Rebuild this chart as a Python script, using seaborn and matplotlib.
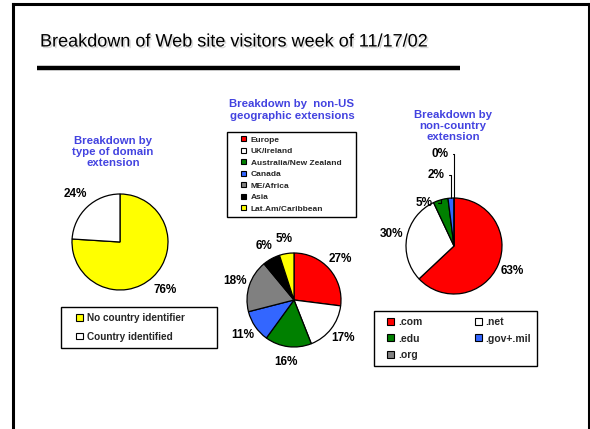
import matplotlib
matplotlib.use("Agg")
import matplotlib.pyplot as plt
import matplotlib.patheffects as pe
from matplotlib.lines import Line2D
from matplotlib.patches import Rectangle
from matplotlib.legend_handler import HandlerPatch
import numpy as np
import seaborn as sns

sns.set_theme(style="white")
plt.rcParams['font.family'] = ['Liberation Sans', 'DejaVu Sans']
plt.rcParams['font.weight'] = 'bold'

# ---------------- data ----------------
title = "Breakdown of Web site visitors week of 11/17/02"

p1_title = "Breakdown by\ntype of domain\nextension"
p1_labels = ["No country identifier", "Country identified"]
p1_values = [76, 24]
p1_colors = ["#FFFF00", "#FFFFFF"]

p2_title = "Breakdown by  non-US\ngeographic extensions"
p2_labels = ["Europe", "UK/Ireland", "Australia/New Zealand", "Canada",
             "ME/Africa", "Asia", "Lat.Am/Caribbean"]
p2_values = [27, 17, 16, 11, 18, 6, 5]
p2_colors = ["#FF0000", "#FFFFFF", "#008000", "#3366FF", "#808080",
             "#000000", "#FFFF00"]

p3_title = "Breakdown by\nnon-country\nextension"
p3_labels = [".com", ".net", ".edu", ".gov+.mil", ".org"]
p3_values = [63, 30, 5, 2, 0]
p3_colors = ["#FF0000", "#FFFFFF", "#008000", "#3366FF", "#808080"]

TITLE_BLUE = "#4343E0"

W, H = 590, 429
fig = plt.figure(figsize=(W / 100, H / 100), dpi=100)
fig.patch.set_facecolor("white")


def fx(x):
    return x / W


def fy(y):
    return 1 - y / H


# slide frame (open at bottom)
for xs, ys in [([13, 13], [4, 429]), ([13, 589], [4, 4]), ([589, 589], [4, 429])]:
    fig.add_artist(Line2D([fx(v) for v in xs], [fy(v) for v in ys],
                          color="black", lw=2.2, solid_capstyle="projecting"))

# title and rule
fig.text(fx(40), fy(42), title, fontsize=13, fontweight="normal",
         ha="left", va="center", color="black",
         path_effects=[pe.withSimplePatchShadow(offset=(1.2, -1.2),
                                                shadow_rgbFace="#aaaaaa",
                                                alpha=0.45)])
fig.add_artist(Line2D([fx(37), fx(460)], [fy(68), fy(68)], color="black",
                      lw=3.2, solid_capstyle="butt"))


class SquareRight(HandlerPatch):
    """Square legend key drawn at the right end of the handle box."""

    def __init__(self, side):
        super().__init__()
        self.side = side

    def create_artists(self, legend, orig_handle, xdescent, ydescent,
                       width, height, fontsize, trans):
        s = self.side * fontsize
        p = Rectangle((width - s - xdescent, -ydescent + (height - s) / 2), s, s,
                      facecolor=orig_handle.get_facecolor(),
                      edgecolor="black", linewidth=0.8, transform=trans)
        return [p]


def pie_axes(cx, cy, r):
    return fig.add_axes([fx(cx - r), fy(cy + r), 2 * r / W, 2 * r / H])


def finish(ax, texts):
    ax.set_xlim(-1, 1)
    ax.set_ylim(-1, 1)
    ax.set_axis_off()
    for t in texts:
        t.set_ha("center")
        t.set_va("center")


wp = dict(edgecolor="black", linewidth=0.9)
lab_kw = dict(fontsize=8.5, fontweight="bold", color="black")
tkw = dict(ha="center", va="center", color=TITLE_BLUE, fontsize=8.2,
           fontweight="bold", linespacing=1.15)
leg_common = dict(loc="upper left", mode="expand", frameon=True, fancybox=False,
                  edgecolor="black", framealpha=1, borderaxespad=0)

# ---------------- pie 1 ----------------
ax1 = pie_axes(120, 242, 48)
w1, t1 = ax1.pie(p1_values, colors=p1_colors, startangle=90, counterclock=False,
                 radius=1, wedgeprops=wp,
                 labels=[f"{v}%" for v in p1_values], labeldistance=1.37,
                 textprops=lab_kw)
finish(ax1, t1)
fig.text(fx(113), fy(152), p1_title, **tkw)
l1 = fig.legend(w1, p1_labels,
                bbox_to_anchor=(fx(61), fy(307), (217 - 61) / W, 0),
                prop=dict(size=7.2, weight="bold"),
                handlelength=1.55, handleheight=0.65, handletextpad=0.45,
                borderpad=0.6, labelspacing=0.85,
                handler_map={w: SquareRight(0.62) for w in w1}, **leg_common)
l1.get_frame().set_linewidth(1.0)

# ---------------- pie 2 ----------------
ax2 = pie_axes(294, 300, 47)
w2, t2 = ax2.pie(p2_values, colors=p2_colors, startangle=90, counterclock=False,
                 radius=1, wedgeprops=wp,
                 labels=[f"{v}%" for v in p2_values], labeldistance=1.32,
                 textprops=lab_kw)
finish(ax2, t2)
fig.text(fx(292), fy(110), p2_title, **tkw)
l2 = fig.legend(w2, p2_labels,
                bbox_to_anchor=(fx(227), fy(132), (356 - 227) / W, 0),
                prop=dict(size=6, weight="bold"),
                handlelength=1.8, handleheight=0.6, handletextpad=0.55,
                borderpad=0.5, labelspacing=0.47,
                handler_map={w: SquareRight(0.58) for w in w2}, **leg_common)
l2.get_frame().set_linewidth(1.0)

# ---------------- pie 3 ----------------
ax3 = pie_axes(454, 246, 48)
big = [f"{v}%" if v >= 10 else "" for v in p3_values]
w3, t3 = ax3.pie(p3_values, colors=p3_colors, startangle=90, counterclock=False,
                 radius=1, wedgeprops=wp, labels=big, labeldistance=1.32,
                 textprops=lab_kw)
finish(ax3, t3)
offsets = {2: (-5.5, -2), 3: (-5, 16.5), 4: (-4.3, 31.7)}
for i, w in enumerate(w3):
    if p3_values[i] >= 10:
        continue
    ang = np.deg2rad((w.theta1 + w.theta2) / 2)
    xy = (np.cos(ang), np.sin(ang))
    dx, dy = offsets[i]
    ax3.annotate(f"{p3_values[i]}%", xy=xy, xytext=(dx, dy),
                 textcoords="offset points", ha="right", va="center",
                 annotation_clip=False, **lab_kw,
                 arrowprops=dict(arrowstyle="-", lw=0.8, color="black",
                                 connectionstyle="angle,angleA=0,angleB=90,rad=0",
                                 relpos=(1, 0.5), shrinkA=1.5, shrinkB=0))
fig.text(fx(453), fy(126), p3_title, **tkw)
order = [0, 2, 4, 1, 3]
l3 = fig.legend([w3[i] for i in order], [p3_labels[i] for i in order], ncol=2,
                bbox_to_anchor=(fx(374), fy(311), (537 - 374) / W, 0),
                prop=dict(size=7.5, weight="bold"),
                handlelength=1.4, handleheight=0.7, handletextpad=0.35,
                borderpad=0.55, labelspacing=0.65, columnspacing=1.0,
                handler_map={w: SquareRight(0.68) for w in w3}, **leg_common)
l3.get_frame().set_linewidth(1.0)
# keep a little more room at the right of the second column, as in the slide
l3._legend_box.pad = l3.borderpad * l3._fontsize

fig.savefig("out.png", dpi=100, facecolor="white")
